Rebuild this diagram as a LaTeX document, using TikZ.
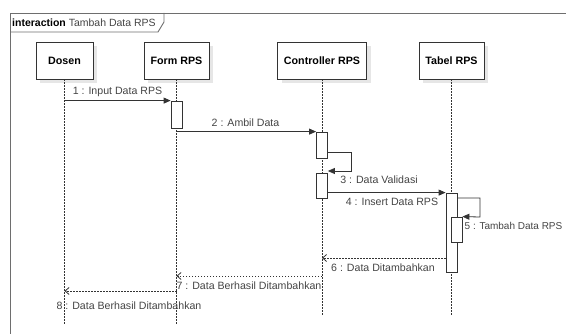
\documentclass[tikz,border=0pt]{standalone}
\usepackage{fontspec}
\setmainfont{Liberation Sans}
\usetikzlibrary{arrows.meta,calc,shadows}
\definecolor{ink}{HTML}{333333}
\definecolor{txt}{HTML}{444444}
\definecolor{framec}{HTML}{6E6E6E}
\definecolor{shade}{HTML}{E6E6E6}
\tikzset{
  objbox/.style={draw=ink, line width=0.9pt, fill=white, minimum height=37pt,
    font=\fontsize{10.7}{12}\selectfont\bfseries, text=black,
    drop shadow={shadow xshift=4pt, shadow yshift=-4pt, fill=shade, opacity=1}},
  actbox/.style={draw=ink, line width=0.8pt, fill=white, minimum width=11pt, inner sep=0pt},
  lifeline/.style={draw=ink, line width=0.8pt, dash pattern=on 1.4pt off 1.6pt},
  callmsg/.style={draw=ink, line width=0.8pt, -{Triangle[length=7pt,width=6pt]}},
  retmsg/.style={draw=ink, line width=0.8pt, dash pattern=on 1.4pt off 1.6pt,
    -{Straight Barb[length=4pt,width=7pt]}},
  msglabel/.style={font=\fontsize{10.6}{12}\selectfont, text=txt, inner sep=0pt},
}
\begin{document}
\begin{tikzpicture}[x=1pt,y=-1pt]
\useasboundingbox (0,0) rectangle (566,334);
\clip (0,0) rectangle (566,334);

% interaction frame and its name tab
\draw[framec, line width=0.9pt] (10,340) -- (10,13) -- (570,13);
\draw[framec, line width=0.9pt] (10,32) -- (158,32) -- (164,22) -- (164,13);
\node[anchor=west, inner sep=0pt, font=\fontsize{10.5}{12}\selectfont, text=black] (title) at (12,23)
  {\textbf{interaction} \textcolor{txt}{Tambah Data RPS}};

% participants
\node[objbox, minimum width=57pt] (dosen) at (64.5,60.5) {Dosen};
\node[objbox, minimum width=65pt] (form) at (176.5,60.5) {Form RPS};
\node[objbox, minimum width=89pt] (ctrl) at (322,60.5) {Controller RPS};
\node[objbox, minimum width=65pt] (tabel) at (451.5,60.5) {Tabel RPS};

% lifelines
\coordinate (dosenEnd) at (64.5,325);
\coordinate (formEnd) at (176.5,325);
\coordinate (ctrlEnd) at (322,315);
\coordinate (tabelEnd) at (451.5,315);
\draw[lifeline] (dosen.south) -- (dosenEnd);
\draw[lifeline] (form.south) -- (formEnd);
\draw[lifeline] (ctrl.south) -- (ctrlEnd);
\draw[lifeline] (tabel.south) -- (tabelEnd);

% activation bars
\node[actbox, minimum height=27pt] (f1) at (176.5,114.5) {};
\node[actbox, minimum height=26pt] (c1) at (322,145) {};
\node[actbox, minimum height=25pt] (c2) at (322,185.5) {};
\node[actbox, minimum height=79pt] (t1) at (451.5,232.5) {};
\node[actbox, minimum height=25pt] (t2) at (456.5,229.5) {};

% 1 : Input Data RPS
\draw[callmsg] (dosen |- f1.north west) -- (f1.north west);
\node[msglabel] (l1) at (117.5,92) {1 : Input Data RPS};

% 2 : Ambil Data
\draw[callmsg] (form |- c1.north west) -- (c1.north west);
\node[msglabel] (l2) at (245.5,123) {2 : Ambil Data};

% 3 : Data Validasi (self call)
\coordinate (s3a) at (351,152);
\coordinate (s3b) at (351,171);
\draw[callmsg] (c1.east |- s3a) -- (s3a) -- (s3b) -- (c2.east |- s3b);
\node[msglabel] (l3) at (379,180) {3 : Data Validasi};

% 4 : Insert Data RPS
\draw[callmsg] (c2.east |- t1.north west) -- (t1.north west);
\node[msglabel] (l4) at (392,202) {4 : Insert Data RPS};

% 5 : Tambah Data RPS (self call)
\coordinate (s5a) at (480,198);
\coordinate (s5b) at (480,217);
\draw[callmsg] (t1.east |- s5a) -- (s5a) -- (s5b) -- (t2.north east);
\node[msglabel, font=\fontsize{10}{12}\selectfont, anchor=west] (l5) at (464.5,226) {5 : Tambah Data RPS};

% 6 : Data Ditambahkan (reply)
\coordinate (m6) at (446,258);
\draw[retmsg] (t1.west |- m6) -- (ctrl |- m6);
\node[msglabel] (l6) at (383,267.5) {6 : Data Ditambahkan};

% 7 : Data Berhasil Ditambahkan (reply)
\coordinate (m7) at (322,276);
\draw[retmsg] (ctrl |- m7) -- (form |- m7);
\node[msglabel] (l7) at (249,285.5) {7 : Data Berhasil Ditambahkan};

% 8 : Data Berhasil Ditambahkan (reply)
\coordinate (m8) at (176.5,291);
\draw[retmsg] (form |- m8) -- (dosen |- m8);
\node[msglabel] (l8) at (129,306) {8 : Data Berhasil Ditambahkan};
\end{tikzpicture}
\end{document}
